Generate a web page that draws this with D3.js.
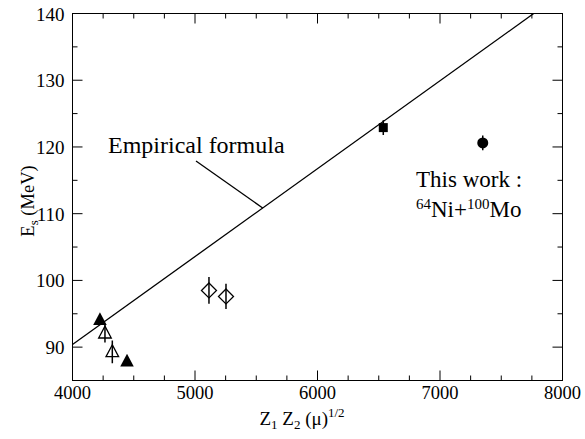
<!DOCTYPE html>
<html><head><meta charset="utf-8">
<script src="https://cdn.jsdelivr.net/npm/d3@7"></script>
<style>body{margin:0;background:#fff}svg{display:block}</style>
</head><body><svg id="c" width="585" height="439" font-family="'Liberation Serif', 'Times New Roman', 'DejaVu Serif', serif"></svg>
<script>
// data
const filledTriangles = [{x:4224,y:94.1,e:0},{x:4445,y:87.9,e:0}];
const openTriangles = [{x:4265,y:92.1,e:1.4},{x:4325,y:89.3,e:1.7}];
const diamonds = [{x:5114,y:98.5,e:2.0},{x:5253,y:97.6,e:1.9}];
const squares = [{x:6537,y:122.9,e:1.1}];
const circles = [{x:7349,y:120.6,e:1.1}];
const formulaX = [4000, 7765];
const formulaY = [90.4, 140];
const xTicks = [4000,5000,6000,7000,8000];
const yTicks = [90,100,110,120,130,140];

const svg = d3.select("#c");
const L=72.5,R=562.5,T=13.5,B=380.5;
const x = d3.scaleLinear().domain([4000,8000]).range([L,R]);
const y = d3.scaleLinear().domain([85,140]).range([B,T]);

// frame
svg.append("rect").attr("x",L).attr("y",T).attr("width",R-L).attr("height",B-T).attr("fill","none").attr("stroke","#000").attr("stroke-width",1);

// ticks
const xMinor = d3.range(4250,8000,250).filter(v=>v%1000!==0);
const yMinor = d3.range(85,140,5).filter(v=>v%10!==0);
const tk = svg.append("g").attr("stroke","#000").attr("stroke-width",1);
xTicks.forEach(v=>{tk.append("line").attr("x1",x(v)).attr("x2",x(v)).attr("y1",B).attr("y2",B-10);tk.append("line").attr("x1",x(v)).attr("x2",x(v)).attr("y1",T).attr("y2",T+10);});
xMinor.forEach(v=>{tk.append("line").attr("x1",x(v)).attr("x2",x(v)).attr("y1",B).attr("y2",B-5);tk.append("line").attr("x1",x(v)).attr("x2",x(v)).attr("y1",T).attr("y2",T+5);});
yTicks.forEach(v=>{tk.append("line").attr("y1",y(v)).attr("y2",y(v)).attr("x1",L).attr("x2",L+10);tk.append("line").attr("y1",y(v)).attr("y2",y(v)).attr("x1",R).attr("x2",R-10);});
yMinor.forEach(v=>{tk.append("line").attr("y1",y(v)).attr("y2",y(v)).attr("x1",L).attr("x2",L+5);tk.append("line").attr("y1",y(v)).attr("y2",y(v)).attr("x1",R).attr("x2",R-5);});

// tick labels
svg.append("g").selectAll("text").data(xTicks).join("text").attr("x",d=>x(d)).attr("y",B+18).attr("text-anchor","middle").attr("font-size",18.5).text(d=>d);
svg.append("g").selectAll("text").data(yTicks).join("text").attr("x",L-8).attr("y",d=>y(d)+7).attr("text-anchor","end").attr("font-size",19).text(d=>d);

// axis titles
const xt = svg.append("text").attr("x",302).attr("y",425).attr("text-anchor","middle").attr("font-size",19);
xt.append("tspan").text("Z");
xt.append("tspan").attr("font-size",13).attr("dy",4).text("1");
xt.append("tspan").attr("dy",-4).text(" Z");
xt.append("tspan").attr("font-size",13).attr("dy",4).text("2");
xt.append("tspan").attr("dy",-4).text(" (\u03bc)");
xt.append("tspan").attr("font-size",13).attr("dy",-8).text("1/2");

const yt = svg.append("text").attr("transform","translate(34,201) rotate(-90)").attr("text-anchor","middle").attr("font-size",18.5);
yt.append("tspan").text("E");
yt.append("tspan").attr("font-size",13).attr("dy",4).text("s");
yt.append("tspan").attr("dy",-4).text(" (MeV)");

// plot clip
svg.append("clipPath").attr("id","pc").append("rect").attr("x",L).attr("y",T).attr("width",R-L).attr("height",B-T);
const g = svg.append("g").attr("clip-path","url(#pc)");

// formula line
const fx1=x(formulaX[0]), fy1=y(formulaY[0]), fx2=x(formulaX[1]), fy2=y(formulaY[1]);
g.append("line").attr("x1",fx1).attr("y1",fy1).attr("x2",fx2).attr("y2",fy2).attr("stroke","#000").attr("stroke-width",1.3);

// pointer + label (pointer ends on the formula line)
const px0=196, py0=161, pdx=61, pdy=43;
const m=(fy2-fy1)/(fx2-fx1);
const t=(fy1 + m*(px0-fx1) - py0)/(pdy - m*pdx);
svg.append("line").attr("x1",px0).attr("y1",py0).attr("x2",px0+t*pdx).attr("y2",py0+t*pdy).attr("stroke","#000").attr("stroke-width",1.3);
svg.append("text").attr("x",108).attr("y",153).attr("font-size",24).text("Empirical formula");

// error bars
const allPts = [].concat(openTriangles,diamonds,squares,circles);
g.selectAll("line.err").data(allPts).join("line").attr("class","err")
 .attr("x1",d=>x(d.x)).attr("x2",d=>x(d.x)).attr("y1",d=>y(d.y-d.e)).attr("y2",d=>y(d.y+d.e)).attr("stroke","#000").attr("stroke-width",1.5);

const tri = (cx,cy,s)=>`M${cx},${cy-s}L${cx+s*0.9},${cy+s*0.7}L${cx-s*0.9},${cy+s*0.7}Z`;
g.selectAll("path.ft").data(filledTriangles).join("path").attr("d",d=>tri(x(d.x),y(d.y),7.5)).attr("fill","#000");
g.selectAll("path.ot").data(openTriangles).join("path").attr("d",d=>tri(x(d.x),y(d.y),7)).attr("fill","none").attr("stroke","#000").attr("stroke-width",1.3);
g.selectAll("path.dm").data(diamonds).join("path").attr("d",d=>{const cx=x(d.x),cy=y(d.y),s=7.5;return `M${cx},${cy-s}L${cx+s},${cy}L${cx},${cy+s}L${cx-s},${cy}Z`;}).attr("fill","none").attr("stroke","#000").attr("stroke-width",1.3);
g.selectAll("rect.sq").data(squares).join("rect").attr("x",d=>x(d.x)-4.5).attr("y",d=>y(d.y)-4.5).attr("width",9).attr("height",9).attr("fill","#000");
g.selectAll("circle.ci").data(circles).join("circle").attr("cx",d=>x(d.x)).attr("cy",d=>y(d.y)).attr("r",5.5).attr("fill","#000");

// this work label
svg.append("text").attr("x",416).attr("y",187).attr("font-size",23).text("This work :");
const tw = svg.append("text").attr("x",416).attr("y",217).attr("font-size",23);
tw.append("tspan").attr("font-size",15).attr("dy",-8).text("64");
tw.append("tspan").attr("dy",8).text("Ni+");
tw.append("tspan").attr("font-size",15).attr("dy",-8).text("100");
tw.append("tspan").attr("dy",8).text("Mo");
</script></body></html>
